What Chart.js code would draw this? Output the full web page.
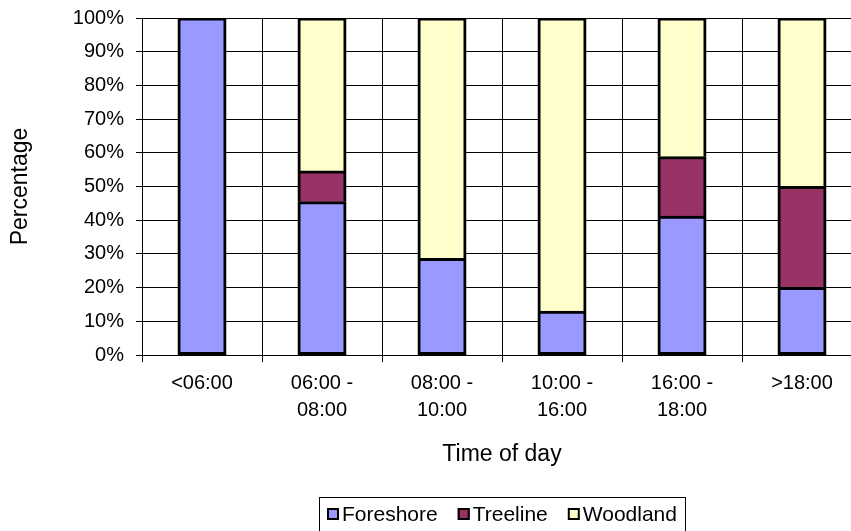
<!DOCTYPE html>
<html>
<head>
<meta charset="utf-8">
<script src="https://cdn.jsdelivr.net/npm/chart.js@4/dist/chart.umd.min.js"></script>
<style>
  html, body { margin: 0; padding: 0; background: #fff; }
  #wrap { width: 851px; height: 531px; overflow: hidden; position: relative; }
  #wrap canvas { position: absolute; left: 0; top: 0; }
</style>
</head>
<body>
<div id="wrap"><canvas id="chart" width="862" height="540"></canvas></div>
<script>
var categories = [ "<06:00", ["06:00 -", "08:00"], ["08:00 -", "10:00"], ["10:00 -", "16:00"], ["16:00 -", "18:00"], ">18:00" ]
  , foreshore = [ 100, 45.5, 28.6, 13, 41.2, 20 ]
  , treeline  = [ 0, 9.1, 0, 0, 17.6, 30 ]
  , woodland  = [ 0, 45.4, 71.4, 87, 41.2, 50 ]
  , yTicks    = [ 0, 10, 20, 30, 40, 50, 60, 70, 80, 90, 100 ]
;

var color = {
	foreshore: "#9999ff"
  , treeline: "#993366"
  , woodland: "#ffffcc"
  , line: "#000000"
};

var fonts = "'Liberation Sans', Arial, sans-serif";

// excel style legend: small squares, boxed, centred under the plot
var legendBox = {
	id: "legendBox",
	afterDraw: function (chart) {
		var ctx = chart.ctx
		  , area = chart.chartArea
		  , sq = 12, gapText = 3, gapItem = 20, pad = 8
		  , top = 497, cy = 514;
		ctx.save();
		ctx.font = "21px " + fonts;
		var items = chart.data.datasets.map(function (ds) {
			return { label: ds.label, fill: ds.backgroundColor, w: ctx.measureText(ds.label).width };
		});
		var total = gapItem * (items.length - 1);
		items.forEach(function (it) { total += sq + gapText + it.w; });
		var x = Math.round((area.left + area.right) / 2 - total / 2);
		ctx.strokeStyle = color.line;
		ctx.lineWidth = 1;
		ctx.strokeRect(x - pad + 0.5, top + 0.5, total + pad * 2, 60);
		ctx.textBaseline = "middle";
		ctx.textAlign = "left";
		items.forEach(function (it) {
			ctx.fillStyle = it.fill;
			ctx.fillRect(x, cy - sq / 2, sq, sq);
			ctx.lineWidth = 2;
			ctx.strokeRect(x + 1, cy - sq / 2 + 1, sq - 2, sq - 2);
			ctx.fillStyle = "#000";
			ctx.fillText(it.label, x + sq + gapText, cy + 1);
			x += sq + gapText + it.w + gapItem;
		});
		ctx.restore();
	}
};

function bar(label, data, fill, skip) {
	return {
		label: label,
		data: data,
		backgroundColor: fill,
		borderColor: color.line,
		borderWidth: 3,
		borderSkipped: skip,
		inflateAmount: 0.5,
		barPercentage: 0.4,
		categoryPercentage: 1
	};
}

var ctx = document.getElementById("chart").getContext("2d");
var chart = new Chart(ctx, {
	type: "bar",
	data: {
		labels: categories,
		datasets: [
			bar("Foreshore", foreshore, color.foreshore, false),
			bar("Treeline", treeline, color.treeline, "start"),
			bar("Woodland", woodland, color.woodland, "start")
		]
	},
	options: {
		responsive: false,
		animation: false,
		layout: { padding: { top: 18, right: 0, bottom: 65, left: 0 } },
		plugins: {
			legend: { display: false },
			tooltip: { enabled: false }
		},
		scales: {
			x: {
				stacked: true,
				afterFit: function (scale) { scale.height = 120; },
				grid: { color: color.line, lineWidth: 1, tickLength: 7, offset: true },
				border: { color: color.line, width: 1 },
				ticks: {
					color: "#000",
					padding: 8,
					maxRotation: 0,
					autoSkip: false,
					font: { family: fonts, size: 20, lineHeight: 1.35 }
				},
				title: {
					display: true,
					text: "Time of day",
					color: "#000",
					font: { family: fonts, size: 23, lineHeight: 1.2 },
					padding: { top: 0, bottom: 7 }
				}
			},
			y: {
				stacked: true,
				min: 0,
				max: 100,
				afterFit: function (scale) {
					scale.width = 142;
					scale.paddingTop = 0;
					scale.paddingBottom = 0;
				},
				afterBuildTicks: function (scale) {
					scale.ticks = yTicks.map(function (v) { return { value: v }; });
				},
				grid: { color: color.line, lineWidth: 1, tickLength: 6 },
				border: { color: color.line, width: 1 },
				ticks: {
					color: "#000",
					padding: 12,
					font: { family: fonts, size: 20 },
					callback: function (v) { return v + "%"; }
				},
				title: {
					display: true,
					text: "Percentage",
					color: "#000",
					font: { family: fonts, size: 23, lineHeight: 1.2 },
					padding: { top: 7, bottom: 0 }
				}
			}
		}
	},
	plugins: [ legendBox ]
});
</script>
</body>
</html>
